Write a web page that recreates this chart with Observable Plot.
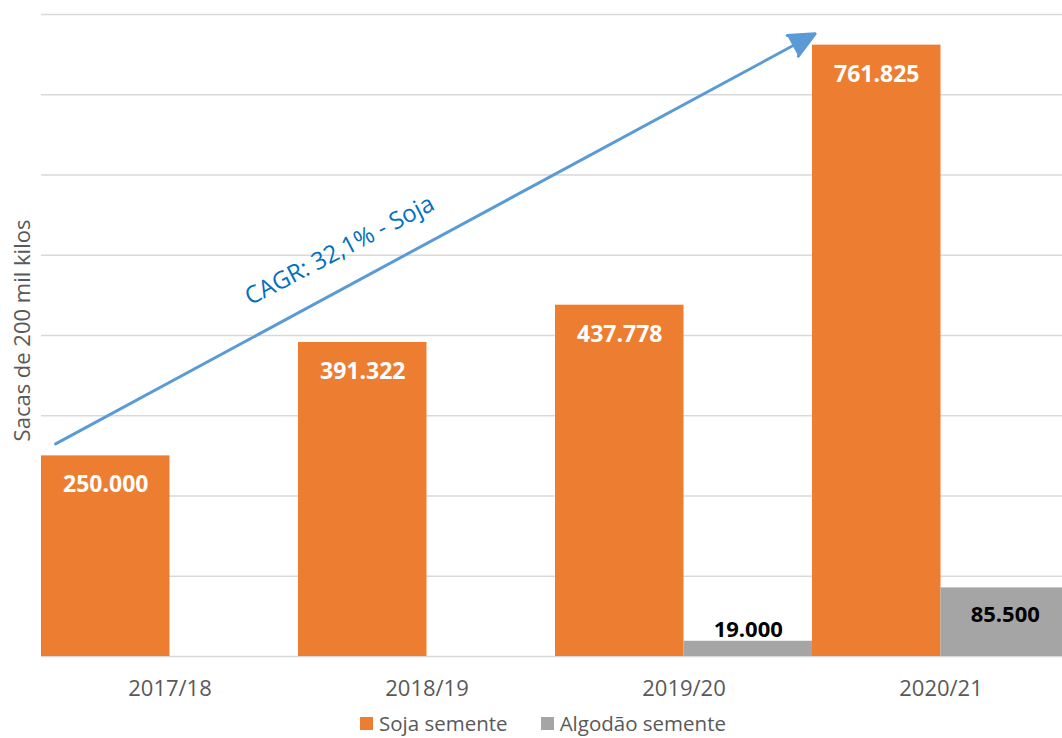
<!DOCTYPE html>
<html>
<head>
<meta charset="utf-8">
<script src="https://cdn.jsdelivr.net/npm/d3@7"></script>
<script src="https://cdn.jsdelivr.net/npm/@observablehq/plot@0.6"></script>
<style>
  html, body { margin: 0; padding: 0; background: #fff; overflow: hidden; }
  body { font-family: "Open Sans", sans-serif; width: 1062px; height: 738px; }
  #chart { position: relative; }
  #chart svg { max-width: none !important; display: block; }
  .legend { position: absolute; left: 360px; top: 712px; display: flex; align-items: center; line-height: 1.1;
            font-family: "Open Sans", sans-serif; font-size: 20.5px; color: #595959; white-space: nowrap; }
  .legend .item { display: flex; align-items: center; margin-right: 33px; }
  .legend .sw { width: 13px; height: 13px; margin-right: 6px; }
</style>
</head>
<body>
<div id="chart"></div>
<script>
// ---- data ----
const categories = ["2017/18", "2018/19", "2019/20", "2020/21"];
const seriesNames = ["Soja semente", "Algodão semente"];
const soja = [250000, 391322, 437778, 761825];
const algodao = [null, null, 19000, 85500];
const gridTicks = [0, 100000, 200000, 300000, 400000, 500000, 600000, 700000, 800000];
// CAGR annotation arrow, in data units (x: category index position, y: sacas)
const cagrArrow = [{x1: 0.055, y1: 265000, x2: 3.01, y2: 776000}];
const cagrLabel = [{x: 1.16, y: 506000, text: "CAGR: 32,1% - Soja"}];

const colors = {"Soja semente": "#ED7D31", "Algodão semente": "#A5A5A5"};

const ptBR = d3.formatLocale({decimal: ",", thousands: ".", grouping: [3], currency: ["R$", ""]});
const fmt = ptBR.format(",d");

const table = [];
categories.forEach((c, i) => {
  table.push({cat: c, series: seriesNames[0], x1: i, x2: i + 0.5, value: soja[i]});
  if (algodao[i] != null) table.push({cat: c, series: seriesNames[1], x1: i + 0.5, x2: i + 1, value: algodao[i]});
});
const sojaRows = table.filter(d => d.series === seriesNames[0]);
const algRows = table.filter(d => d.series === seriesNames[1]);
const algInside = algRows.filter(d => d.value >= 50000);
const algAbove = algRows.filter(d => d.value < 50000);

const plot = Plot.plot({
  width: 1070,
  height: 705,
  marginLeft: 41,
  marginRight: 1,
  marginTop: 14,
  marginBottom: 49,
  style: {fontFamily: "Open Sans, sans-serif", background: "transparent"},
  x: {domain: [0, 4], axis: null},
  y: {domain: [0, 800000], axis: null},
  marks: [
    Plot.ruleY(gridTicks, {stroke: "#D9D9D9", strokeWidth: 1.5}),
    Plot.rectY(table, {x1: "x1", x2: "x2", y: "value", fill: d => colors[d.series]}),
    Plot.text(sojaRows, {
      x: d => (d.x1 + d.x2) / 2, y: "value", text: d => fmt(d.value), dy: 29,
      fill: "white", fontWeight: "bold", fontSize: 23
    }),
    Plot.text(algInside, {
      x: d => (d.x1 + d.x2) / 2, y: "value", text: d => fmt(d.value), dy: 27,
      fill: "black", fontWeight: "bold", fontSize: 22
    }),
    Plot.text(algAbove, {
      x: d => (d.x1 + d.x2) / 2, y: "value", text: d => fmt(d.value), dy: -11,
      fill: "black", fontWeight: "bold", fontSize: 22
    }),
    Plot.text(categories, {
      x: (d, i) => i + 0.5, y: 0, text: d => d, dy: 32,
      fill: "#595959", fontSize: 22
    }),
    Plot.text(["Sacas de 200 mil kilos"], {
      frameAnchor: "left", textAnchor: "middle", rotate: -90, dx: -19, dy: -5,
      fill: "#595959", fontSize: 22
    }),
    Plot.arrow(cagrArrow, {
      x1: "x1", y1: "y1", x2: "x2", y2: "y2",
      stroke: "#5B9BD5", fill: "#5B9BD5", strokeWidth: 3, strokeLinejoin: "miter",
      headLength: 14, headAngle: 50
    }),
    Plot.text(cagrLabel, {
      x: "x", y: "y", text: "text", rotate: -27.5,
      fill: "#0070C0", fontSize: 24
    })
  ]
});

document.getElementById("chart").appendChild(plot);

const legend = document.createElement("div");
legend.className = "legend";
seriesNames.forEach(s => {
  const item = document.createElement("div");
  item.className = "item";
  const sw = document.createElement("span");
  sw.className = "sw";
  sw.style.background = colors[s];
  const t = document.createElement("span");
  t.textContent = s;
  item.appendChild(sw); item.appendChild(t);
  legend.appendChild(item);
});
document.getElementById("chart").appendChild(legend);
</script>
</body>
</html>
